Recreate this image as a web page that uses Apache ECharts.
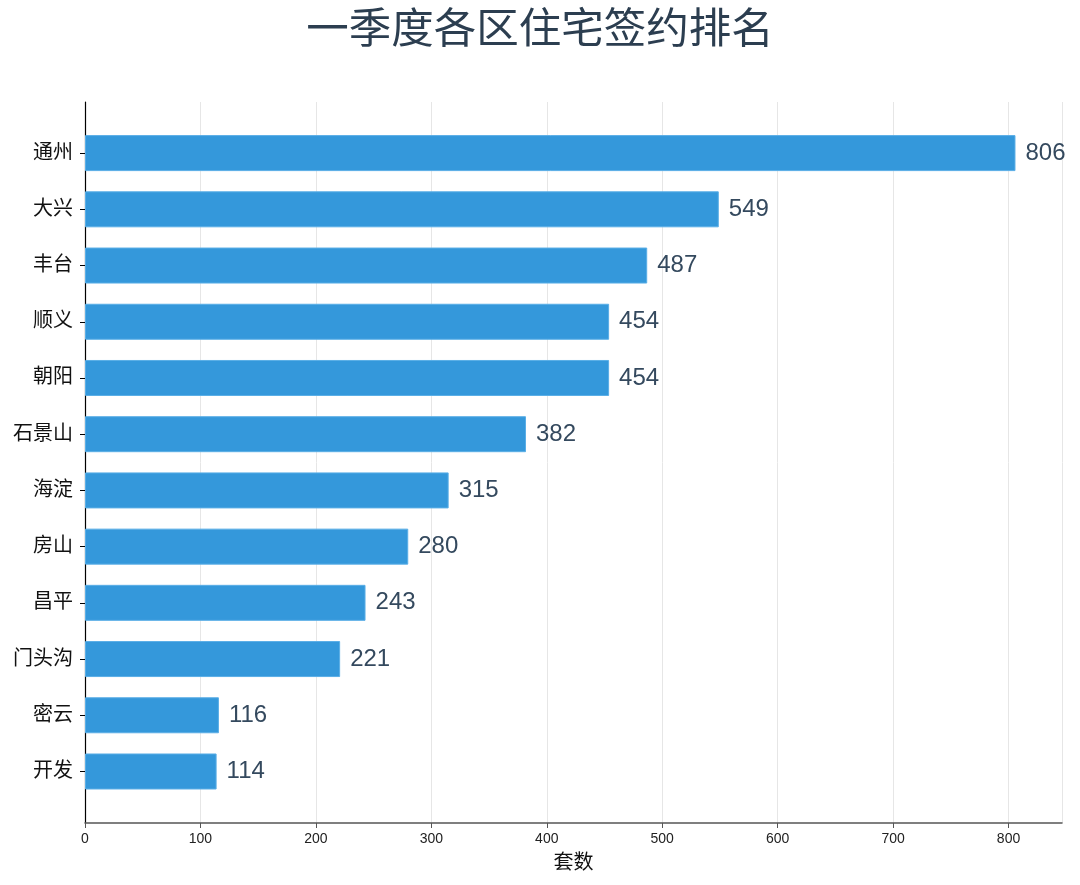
<!DOCTYPE html>
<html><head><meta charset="utf-8">
<script src="https://cdn.jsdelivr.net/npm/echarts@6/dist/echarts.min.js"></script>
<style>html,body{margin:0;padding:0;background:#fff}#c{width:1080px;height:885px}</style>
</head><body><div id="c"></div>
<script>
const categories = ['通州','大兴','丰台','顺义','朝阳','石景山','海淀','房山','昌平','门头沟','密云','开发'];
const values = [806,549,487,454,454,382,315,280,243,221,116,114];
const xTicks = [0,100,200,300,400,500,600,700,800];
const xMax = Math.max(...values) * 1.05;
const FONT = '"Liberation Sans", "Noto Sans CJK SC", sans-serif';

const chart = echarts.init(document.getElementById('c'));
chart.setOption({
  backgroundColor: '#fff',
  textStyle: { fontFamily: FONT },
  title: { text: '一季度各区住宅签约排名', left: 'center', top: 5,
    textStyle: { fontSize: 42.5, fontWeight: 'normal', color: '#2c3e50', fontFamily: FONT } },
  grid: [
    { left: 85, right: 18, top: 102, bottom: 62 },
    { left: 85, right: 18, top: 125, bottom: 85.4 }
  ],
  xAxis: [
    { gridIndex: 0, type: 'value', min: 0, max: xMax, interval: 100,
      name: '套数', nameLocation: 'middle', nameGap: 30,
      nameTextStyle: { fontSize: 20, color: '#111', fontWeight: 'normal', fontFamily: FONT },
      axisLine: { show: true, lineStyle: { color: '#555', width: 1.5 } },
      axisTick: { show: true, length: 5, lineStyle: { color: '#555' } },
      axisLabel: { fontSize: 14, color: '#222', margin: 9, showMaxLabel: false,
        formatter: v => xTicks.includes(v) ? String(v) : '' },
      splitLine: { show: true, lineStyle: { color: '#e6e6e6', width: 1 } } },
    { gridIndex: 1, type: 'value', min: 0, max: xMax, show: false }
  ],
  yAxis: [
    { gridIndex: 0, type: 'value', min: 0, max: 1,
      axisLine: { show: true, lineStyle: { color: '#000', width: 1.2 } },
      axisTick: { show: false }, axisLabel: { show: false }, splitLine: { show: false } },
    { gridIndex: 1, type: 'category', data: categories, inverse: true,
      axisLine: { show: false },
      axisTick: { show: true, alignWithLabel: true, length: 5, lineStyle: { color: '#000' } },
      axisLabel: { fontSize: 20, color: '#111', margin: 12, fontFamily: FONT },
      splitLine: { show: false } }
  ],
  series: [{
    type: 'bar', xAxisIndex: 1, yAxisIndex: 1, data: values, barWidth: 36,
    itemStyle: { color: '#3498db', borderColor: '#5aaee6', borderWidth: 1 },
    label: { show: true, position: 'right', distance: 10, fontSize: 24, color: '#34495e', fontFamily: FONT },
    silent: true
  }],
  animation: false
});
</script></body></html>
